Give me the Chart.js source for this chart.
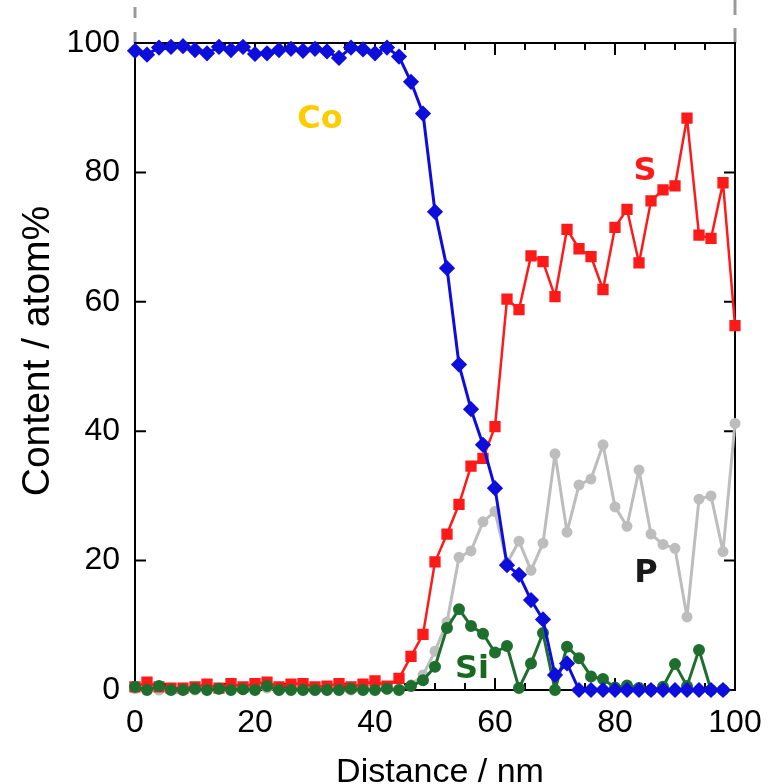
<!DOCTYPE html>
<html>
<head>
<meta charset="utf-8">
<script src="https://cdn.jsdelivr.net/npm/chart.js@4.4.1/dist/chart.umd.min.js"></script>
<style>
  html, body { margin: 0; padding: 0; background: #ffffff; }
  #wrap { width: 778px; height: 784px; position: relative; }
</style>
</head>
<body>
<div id="wrap"><canvas id="c"></canvas></div>
<script>
// Distance (nm)
const distance = [0,2,4,6,8,10,12,14,16,18,20,22,24,26,28,30,32,34,36,38,40,42,44,46,48,50,
                  52,54,56,58,60,62,64,66,68,70,72,74,76,78,80,82,84,86,88,90,92,94,96,98,100];
// Content (atom%)
const coValues = [98.8,98.2,99.3,99.4,99.5,98.9,98.4,99.4,98.9,99.4,98.3,98.4,98.9,99.1,98.8,99.1,98.7,97.7,99.3,99.0,98.4,99.3,97.9,94.0,89.1,73.9,
                  65.2,50.3,43.4,37.9,31.2,19.3,17.8,13.9,10.9,2.3,4.1,0,0,0,0,0,0,0,0,0,0,0,0,0,null];
const sValues  = [0.5,1.2,0.5,0.3,0.3,0.5,0.9,0.3,1.0,0.5,1.0,1.2,0.5,0.9,1.0,0.5,0.6,1.0,0.5,0.9,1.4,0.6,1.8,5.2,8.6,19.8,
                  24.1,28.7,34.6,35.8,40.7,60.4,58.8,67.1,66.2,60.8,71.2,68.2,67.0,61.9,71.5,74.3,66.0,75.6,77.3,77.9,88.4,70.3,69.8,78.4,56.3];
const pValues  = [0.2,0.1,0.0,0.2,0.1,0.0,0.2,0.1,0.0,0.2,0.1,0.3,0.0,0.1,0.2,0.0,0.1,0.2,0.0,0.1,0.2,0.1,0.2,0.8,2.3,6.0,
                  10.5,20.5,21.5,26.0,27.6,19.6,23.0,18.5,22.7,36.5,24.4,31.7,32.6,37.9,28.3,25.3,34.0,24.1,22.5,21.9,11.3,29.5,30.0,21.4,41.2];
const siValues = [0.5,0.0,0.6,0.0,0.0,0.2,0.0,0.2,0.0,0.1,0.0,0.6,0.0,0.0,0.0,0.0,0.0,0.0,0.2,0.0,0.0,0.2,0.0,0.6,1.5,3.6,
                  9.6,12.5,9.9,8.7,5.8,6.8,0.3,4.1,8.8,0.0,6.7,4.9,2.1,1.7,0.4,0.7,0.3,0.0,0.5,4.0,0.6,6.2,0.0,0.0,null];
const xTicks = [0,20,40,60,80,100];
const yTicks = [0,20,40,60,80,100];

const seriesLabels = [
  { text: 'Co', color: '#FFCC00', x: 320, y: 128 },
  { text: 'S',  color: '#FF1A1A', x: 645, y: 180 },
  { text: 'P',  color: '#1A1A1A', x: 646, y: 582 },
  { text: 'Si', color: '#17691F', x: 472, y: 678 }
];

function pts(vals) { return distance.map((d, i) => ({ x: d, y: vals[i] })); }

const framePlugin = {
  id: 'framePlugin',
  beforeDatasetsDraw(chart) {
    const { ctx, chartArea: a, scales } = chart;
    ctx.save();
    // dashed gray guides above the frame
    ctx.strokeStyle = '#9a9a9a';
    ctx.lineWidth = 3;
    const guides = [
      { x: a.left,  segs: [[7, 18], [32, a.top]] },
      { x: a.right, segs: [[0, 15], [28, a.top]] }
    ];
    guides.forEach(g => g.segs.forEach(s => {
      ctx.beginPath(); ctx.moveTo(g.x, s[0]); ctx.lineTo(g.x, s[1]); ctx.stroke();
    }));
    // frame
    ctx.strokeStyle = '#000';
    ctx.lineWidth = 2;
    ctx.strokeRect(a.left, a.top, a.right - a.left, a.bottom - a.top);
    // inward ticks on x (top & bottom)
    for (let v = 0; v <= 100; v += 5) {
      const px = scales.x.getPixelForValue(v);
      const len = (v % 20 === 0) ? 12 : 7;
      ctx.beginPath();
      ctx.moveTo(px, a.bottom); ctx.lineTo(px, a.bottom - len);
      ctx.moveTo(px, a.top); ctx.lineTo(px, a.top + len);
      ctx.stroke();
    }
    // inward ticks on y (left & right)
    yTicks.forEach(v => {
      const py = scales.y.getPixelForValue(v);
      ctx.beginPath();
      ctx.moveTo(a.left, py); ctx.lineTo(a.left + 11, py);
      ctx.moveTo(a.right, py); ctx.lineTo(a.right - 11, py);
      ctx.stroke();
    });
    ctx.restore();
  },
  afterDraw(chart) {
    const { ctx } = chart;
    ctx.save();
    ctx.textBaseline = 'alphabetic';
    ctx.textAlign = 'center';
    ctx.font = 'bold 32px "DejaVu Sans"';
    seriesLabels.forEach(l => { ctx.fillStyle = l.color; ctx.fillText(l.text, l.x, l.y); });
    // axis titles
    ctx.fillStyle = '#000';
    ctx.font = '34px "Liberation Sans", Arial, sans-serif';
    ctx.fillText('Distance / nm', 440, 782);
    ctx.translate(49, 351);
    ctx.rotate(-Math.PI / 2);
    ctx.font = '39px "Liberation Sans", Arial, sans-serif';
    ctx.fillText('Content / atom%', 0, 0);
    ctx.restore();
  }
};

const common = { showLine: true, tension: 0, borderJoinStyle: 'round' };

new Chart(document.getElementById('c'), {
  type: 'scatter',
  data: {
    datasets: [
      Object.assign({ label: 'Co', data: pts(coValues), borderColor: '#0E0EDC', backgroundColor: '#0E0EDC',
        borderWidth: 3, pointStyle: 'rectRot', pointRadius: 6, pointHoverRadius: 6 }, common),
      Object.assign({ label: 'Si', data: pts(siValues), borderColor: '#1E6E2E', backgroundColor: '#1E6E2E',
        borderWidth: 3, pointStyle: 'circle', pointRadius: 4.5, pointHoverRadius: 4.5 }, common),
      Object.assign({ label: 'S', data: pts(sValues), borderColor: '#FF1A1A', backgroundColor: '#FF1A1A',
        borderWidth: 2.5, pointStyle: 'rect', pointRadius: 6.2, pointHoverRadius: 6.2 }, common),
      Object.assign({ label: 'P', data: pts(pValues), borderColor: '#BDBDBD', backgroundColor: '#BDBDBD',
        borderWidth: 3, pointStyle: 'circle', pointRadius: 4, pointHoverRadius: 4 }, common)
    ]
  },
  options: {
    responsive: true,
    maintainAspectRatio: false,
    animation: false,
    clip: false,
    layout: { padding: { top: 43, right: 43, left: 0, bottom: 0 } },
    plugins: { legend: { display: false }, tooltip: { enabled: false } },
    scales: {
      x: {
        type: 'linear', min: 0, max: 100,
        afterFit(s) { s.height = 94; },
        afterBuildTicks(s) { s.ticks = xTicks.map(v => ({ value: v })); },
        grid: { display: false, drawTicks: false },
        border: { display: false },
        ticks: { color: '#000', padding: 14, maxRotation: 0,
          font: { family: '"Liberation Sans", Arial, sans-serif', size: 32 } }
      },
      y: {
        type: 'linear', min: 0, max: 100,
        afterFit(s) { s.width = 135; },
        afterBuildTicks(s) { s.ticks = yTicks.map(v => ({ value: v })); },
        grid: { display: false, drawTicks: false },
        border: { display: false },
        ticks: { color: '#000', padding: 15,
          font: { family: '"Liberation Sans", Arial, sans-serif', size: 32 } }
      }
    }
  },
  plugins: [framePlugin]
});
</script>
</body>
</html>
